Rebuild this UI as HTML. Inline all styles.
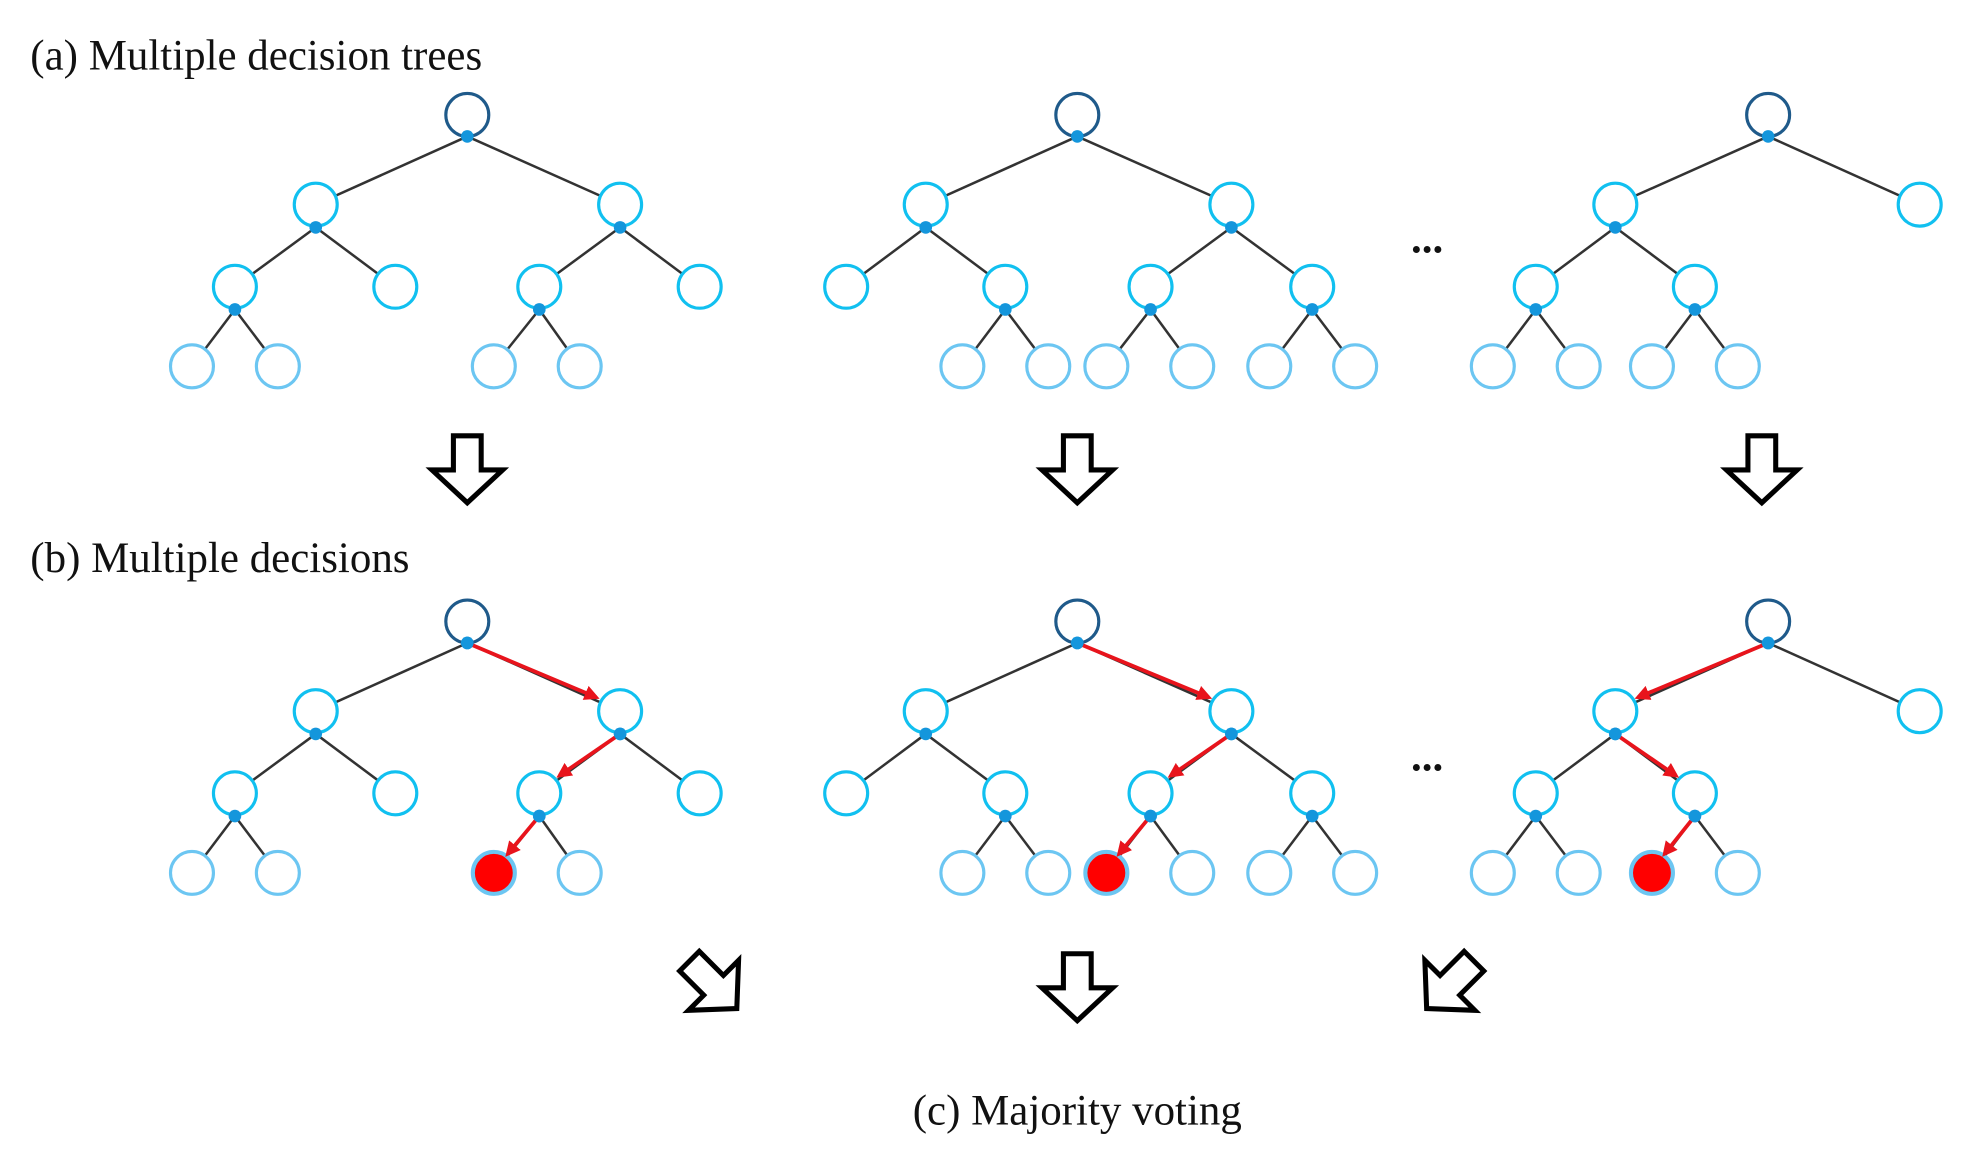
<!DOCTYPE html>
<html><head><meta charset="utf-8"><style>
html,body{margin:0;padding:0;background:#fff;}
svg{display:block;}
text{font-family:"Liberation Serif",serif;fill:#111;}
.e{stroke:#333;stroke-width:2;}
.r{stroke:#e8141c;stroke-width:3;marker-end:url(#ah);}
.n0{fill:#fff;stroke:#1f5a8a;stroke-width:2.5;}
.n1{fill:#fff;stroke:#11c0f0;stroke-width:2.5;}
.n2{fill:#fff;stroke:#6cc6f2;stroke-width:2.5;}
.nr{fill:#f00;stroke:#6cc6f2;stroke-width:2;}
.d{fill:#1496dc;}
.ar{fill:#fff;stroke:#000;stroke-width:4;stroke-linejoin:miter;}
</style></head><body>
<svg width="1974" height="1171" viewBox="0 0 1563 927" preserveAspectRatio="none">
<defs>
<marker id="ah" markerWidth="4" markerHeight="4" refX="3" refY="2" orient="auto"><path d="M0,0 L4,2 L0,4 Z" fill="#e8141c"/></marker>
<path id="da" d="M-11,0 H11 V27 H28 L0,53 L-28,27 H-11 Z"/>
</defs>
<text x="24" y="55" font-size="34">(a) Multiple decision trees</text>
<text x="24" y="453" font-size="34">(b) Multiple decisions</text>
<text x="853" y="890" font-size="34" text-anchor="middle">(c) Majority voting</text>
<text x="1130" y="200" font-size="34" text-anchor="middle" font-weight="bold">...</text>
<text x="1130" y="610" font-size="34" text-anchor="middle" font-weight="bold">...</text>

<g id="trees">
<!-- tree 1 -->
<g class="e">
<line x1="370" y1="108" x2="250" y2="162"/><line x1="370" y1="108" x2="491" y2="162"/>
<line x1="250" y1="180" x2="186" y2="227"/><line x1="250" y1="180" x2="313" y2="227"/>
<line x1="491" y1="180" x2="427" y2="227"/><line x1="491" y1="180" x2="554" y2="227"/>
<line x1="186" y1="245" x2="152" y2="290"/><line x1="186" y1="245" x2="220" y2="290"/>
<line x1="427" y1="245" x2="391" y2="290"/><line x1="427" y1="245" x2="459" y2="290"/>
</g>
<circle class="n0" cx="370" cy="91" r="17"/>
<circle class="n1" cx="250" cy="162" r="17"/><circle class="n1" cx="491" cy="162" r="17"/>
<circle class="n1" cx="186" cy="227" r="17"/><circle class="n1" cx="313" cy="227" r="17"/><circle class="n1" cx="427" cy="227" r="17"/><circle class="n1" cx="554" cy="227" r="17"/>
<circle class="n2" cx="152" cy="290" r="17"/><circle class="n2" cx="220" cy="290" r="17"/><circle class="n2" cx="391" cy="290" r="17"/><circle class="n2" cx="459" cy="290" r="17"/>
<g class="d"><circle cx="370" cy="108" r="5"/><circle cx="250" cy="180" r="5"/><circle cx="491" cy="180" r="5"/><circle cx="186" cy="245" r="5"/><circle cx="427" cy="245" r="5"/></g>
<!-- tree 2 -->
<g class="e">
<line x1="853" y1="108" x2="733" y2="162"/><line x1="853" y1="108" x2="975" y2="162"/>
<line x1="733" y1="180" x2="670" y2="227"/><line x1="733" y1="180" x2="796" y2="227"/>
<line x1="975" y1="180" x2="911" y2="227"/><line x1="975" y1="180" x2="1039" y2="227"/>
<line x1="796" y1="245" x2="762" y2="290"/><line x1="796" y1="245" x2="830" y2="290"/>
<line x1="911" y1="245" x2="876" y2="290"/><line x1="911" y1="245" x2="944" y2="290"/>
<line x1="1039" y1="245" x2="1005" y2="290"/><line x1="1039" y1="245" x2="1073" y2="290"/>
</g>
<circle class="n0" cx="853" cy="91" r="17"/>
<circle class="n1" cx="733" cy="162" r="17"/><circle class="n1" cx="975" cy="162" r="17"/>
<circle class="n1" cx="670" cy="227" r="17"/><circle class="n1" cx="796" cy="227" r="17"/><circle class="n1" cx="911" cy="227" r="17"/><circle class="n1" cx="1039" cy="227" r="17"/>
<circle class="n2" cx="762" cy="290" r="17"/><circle class="n2" cx="830" cy="290" r="17"/><circle class="n2" cx="876" cy="290" r="17"/><circle class="n2" cx="944" cy="290" r="17"/><circle class="n2" cx="1005" cy="290" r="17"/><circle class="n2" cx="1073" cy="290" r="17"/>
<g class="d"><circle cx="853" cy="108" r="5"/><circle cx="733" cy="180" r="5"/><circle cx="975" cy="180" r="5"/><circle cx="796" cy="245" r="5"/><circle cx="911" cy="245" r="5"/><circle cx="1039" cy="245" r="5"/></g>
<!-- tree 3 -->
<g class="e">
<line x1="1400" y1="108" x2="1279" y2="162"/><line x1="1400" y1="108" x2="1520" y2="162"/>
<line x1="1279" y1="180" x2="1216" y2="227"/><line x1="1279" y1="180" x2="1342" y2="227"/>
<line x1="1216" y1="245" x2="1182" y2="290"/><line x1="1216" y1="245" x2="1250" y2="290"/>
<line x1="1342" y1="245" x2="1308" y2="290"/><line x1="1342" y1="245" x2="1376" y2="290"/>
</g>
<circle class="n0" cx="1400" cy="91" r="17"/>
<circle class="n1" cx="1279" cy="162" r="17"/><circle class="n1" cx="1520" cy="162" r="17"/>
<circle class="n1" cx="1216" cy="227" r="17"/><circle class="n1" cx="1342" cy="227" r="17"/>
<circle class="n2" cx="1182" cy="290" r="17"/><circle class="n2" cx="1250" cy="290" r="17"/><circle class="n2" cx="1308" cy="290" r="17"/><circle class="n2" cx="1376" cy="290" r="17"/>
<g class="d"><circle cx="1400" cy="108" r="5"/><circle cx="1279" cy="180" r="5"/><circle cx="1216" cy="245" r="5"/><circle cx="1342" cy="245" r="5"/></g>
</g>
<use href="#trees" transform="translate(0,401)"/>
<!-- red nodes and paths -->
<circle class="nr" cx="391" cy="691" r="16"/><circle class="nr" cx="876" cy="691" r="16"/><circle class="nr" cx="1308" cy="691" r="16"/>
<line class="r" x1="370" y1="509" x2="472" y2="552"/>
<line class="r" x1="491" y1="581" x2="443" y2="614"/>
<line class="r" x1="427" y1="646" x2="402" y2="676"/>
<line class="r" x1="853" y1="509" x2="957" y2="552"/>
<line class="r" x1="975" y1="581" x2="927" y2="614"/>
<line class="r" x1="911" y1="646" x2="886" y2="676"/>
<line class="r" x1="1400" y1="509" x2="1297" y2="552"/>
<line class="r" x1="1279" y1="581" x2="1327" y2="614"/>
<line class="r" x1="1342" y1="646" x2="1318" y2="676"/>
<g class="d"><circle cx="370" cy="509" r="5"/><circle cx="491" cy="581" r="5"/><circle cx="427" cy="646" r="5"/><circle cx="853" cy="509" r="5"/><circle cx="975" cy="581" r="5"/><circle cx="911" cy="646" r="5"/><circle cx="1400" cy="509" r="5"/><circle cx="1279" cy="581" r="5"/><circle cx="1342" cy="646" r="5"/></g>
<!-- hollow arrows -->
<use href="#da" class="ar" transform="translate(370,345)"/>
<use href="#da" class="ar" transform="translate(853,345)"/>
<use href="#da" class="ar" transform="translate(1395,345)"/>
<use href="#da" class="ar" transform="translate(853,755)"/>
<use href="#da" class="ar" transform="translate(565,780) rotate(-45) translate(0,-27)"/>
<use href="#da" class="ar" transform="translate(1148,780) rotate(45) translate(0,-27)"/>
</svg>
</body></html>
